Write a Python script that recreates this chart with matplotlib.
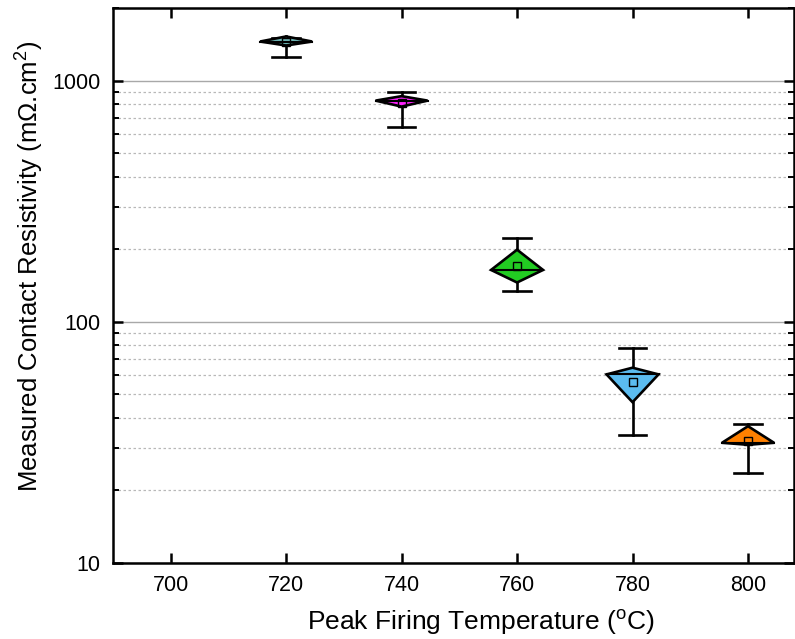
import matplotlib
matplotlib.use("Agg")
import matplotlib.pyplot as plt
from matplotlib.ticker import LogLocator, FixedLocator, NullFormatter

plt.rcParams['font.family'] = ['Liberation Sans', 'DejaVu Sans']
plt.rcParams['mathtext.fontset'] = 'custom'
plt.rcParams['mathtext.rm'] = 'Liberation Sans'
plt.rcParams['mathtext.it'] = 'Liberation Sans:italic'

# Data
temps = [720, 740, 760, 780, 800]
whisker_hi = [1500, 897, 222, 77.6, 37.8]
q3 = [1524, 862, 199, 64.5, 36.9]
median = [1452, 826, 164, 60.5, 31.5]
q1 = [1398, 780, 145.5, 46.4, 30.9]
whisker_lo = [1256, 644, 134.3, 34.0, 23.6]
means = [1445, 810, 170.6, 56.2, 31.9]
colors = ['#6fb7b7', '#ff22ff', '#22cc22', '#5bbcf0', '#ff8000']

fig = plt.figure(figsize=(7.95, 6.39), dpi=100)
ax = fig.add_axes([0.142, 0.119, 0.857, 0.8685])

half_w = 4.5
cap_w = 2.4
for t, wh, a3, m, a1, wl, mn, c in zip(temps, whisker_hi, q3, median, q1, whisker_lo, means, colors):
    # whiskers
    ax.plot([t, t], [a3, wh], color='black', lw=1.9, zorder=2)
    ax.plot([t, t], [a1, wl], color='black', lw=1.9, zorder=2)
    ax.plot([t - cap_w, t + cap_w], [wh, wh], color='black', lw=1.9, zorder=2)
    ax.plot([t - cap_w, t + cap_w], [wl, wl], color='black', lw=1.9, zorder=2)
    # diamond box
    ax.fill([t, t + half_w, t, t - half_w], [a3, m, a1, m], facecolor=c,
            edgecolor='black', lw=1.9, zorder=3, joinstyle='miter')
    ax.plot([t - half_w, t + half_w], [m, m], color='black', lw=1.5, zorder=4)
    ax.plot([t], [mn], marker='s', ms=5.5, mfc='none', mec='black', mew=1.0, zorder=5)

ax.set_yscale('log')
ax.set_ylim(10, 2000)
ax.set_xlim(690, 808)
ax.set_xticks([700, 720, 740, 760, 780, 800])
ax.yaxis.set_major_locator(FixedLocator([10, 100, 1000]))
ax.set_yticklabels(['10', '100', '1000'])
ax.yaxis.set_minor_locator(LogLocator(base=10, subs=range(2, 10)))
ax.yaxis.set_minor_formatter(NullFormatter())

ax.grid(True, which='major', axis='y', color='#a8a8a8', lw=1.0, ls='-', zorder=0)
ax.grid(True, which='minor', axis='y', color='#b8b8b8', lw=0.9, ls=(0, (2, 2)), zorder=0)
ax.set_axisbelow(True)

ax.tick_params(axis='both', which='major', direction='in', length=7, width=1.8,
               labelsize=15.5, pad=9, top=True, right=True)
ax.tick_params(axis='y', which='minor', direction='in', length=4, width=1.4, right=True)
for s in ax.spines.values():
    s.set_linewidth(1.8)
    s.set_color('black')

ax.set_xlabel('Peak Firing Temperature ($^{\\mathrm{o}}$C)', fontsize=19)
ax.set_ylabel('Measured Contact Resistivity (m\u03a9.cm$^{\\mathrm{2}}$)', fontsize=18.5)
ax.xaxis.set_label_coords(0.54, -0.082)
ax.yaxis.set_label_coords(-0.098, 0.535)

fig.savefig('out.png', dpi=100)
